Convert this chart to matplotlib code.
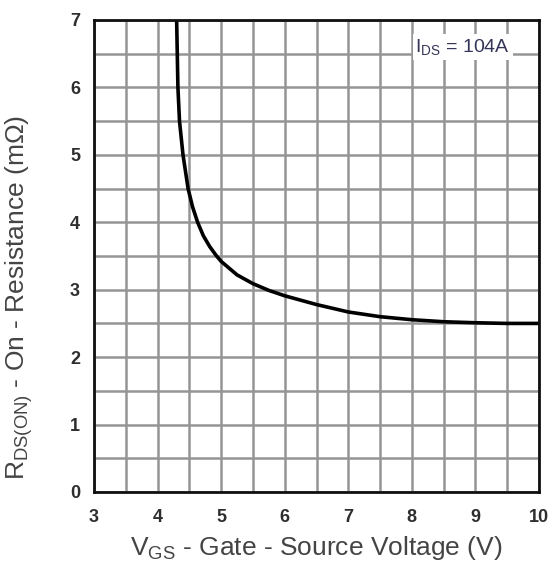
import matplotlib
matplotlib.use("Agg")
import matplotlib.pyplot as plt
from matplotlib.ticker import MultipleLocator

plt.rcParams['font.family'] = ['Liberation Sans', 'DejaVu Sans']
plt.rcParams['mathtext.fontset'] = 'custom'
plt.rcParams['mathtext.rm'] = 'Liberation Sans'
plt.rcParams['mathtext.it'] = 'Liberation Sans'

# Data
vgs = [4.30, 4.31, 4.32, 4.345, 4.40, 4.48, 4.55, 4.63, 4.72, 4.82,
       4.92, 5.00, 5.25, 5.50, 5.75, 6.00, 6.50, 7.00, 7.50, 8.00, 8.50,
       9.00, 9.50, 10.0]
rds = [7.00, 6.50, 6.00, 5.50, 5.00, 4.50, 4.23, 4.00, 3.80, 3.64,
       3.51, 3.42, 3.22, 3.09, 2.99, 2.91, 2.78, 2.67, 2.60, 2.555, 2.525,
       2.51, 2.50, 2.50]
x_ticks = [3, 4, 5, 6, 7, 8, 9, 10]
y_ticks = [0, 1, 2, 3, 4, 5, 6, 7]

fig = plt.figure(figsize=(5.53, 5.65), dpi=100)
ax = fig.add_axes([94/553, 1-492/565, 445/553, 472/565])

ax.plot(vgs, rds, color='black', lw=2.6, solid_capstyle='butt',
        solid_joinstyle='round', zorder=3)

ax.set_xlim(3, 10)
ax.set_ylim(0, 7)
ax.set_xticks(x_ticks)
ax.set_yticks(y_ticks)
ax.xaxis.set_minor_locator(MultipleLocator(0.5))
ax.yaxis.set_minor_locator(MultipleLocator(0.5))
ax.grid(which='both', color='#959595', lw=1.8, zorder=1)
ax.tick_params(which='both', length=0, labelsize=13, labelcolor='#2e2e2e')
ax.tick_params(axis='x', pad=12)
ax.tick_params(axis='y', pad=10)
for lab in ax.get_xticklabels() + ax.get_yticklabels():
    lab.set_fontweight('semibold')
for s in ax.spines.values():
    s.set_linewidth(2.0)
    s.set_color('#111111')
    s.set_zorder(4)

ax.set_xlabel('V$_{GS}$ - Gate - Source Voltage (V)', fontsize=19, color='#444444', labelpad=6)
ax.set_ylabel('R$_{DS(ON)}$ - On - Resistance (m\u03a9)', fontsize=19, color='#444444')
ax.yaxis.set_label_coords(-0.133, 0.413)

ax.text(8.8, 6.6, 'I$_{DS}$ = 104A', fontsize=14, color='#35355a', ha='center', va='center',
        bbox=dict(facecolor='white', edgecolor='none', pad=2), zorder=5)

fig.savefig('out.png', dpi=100)
